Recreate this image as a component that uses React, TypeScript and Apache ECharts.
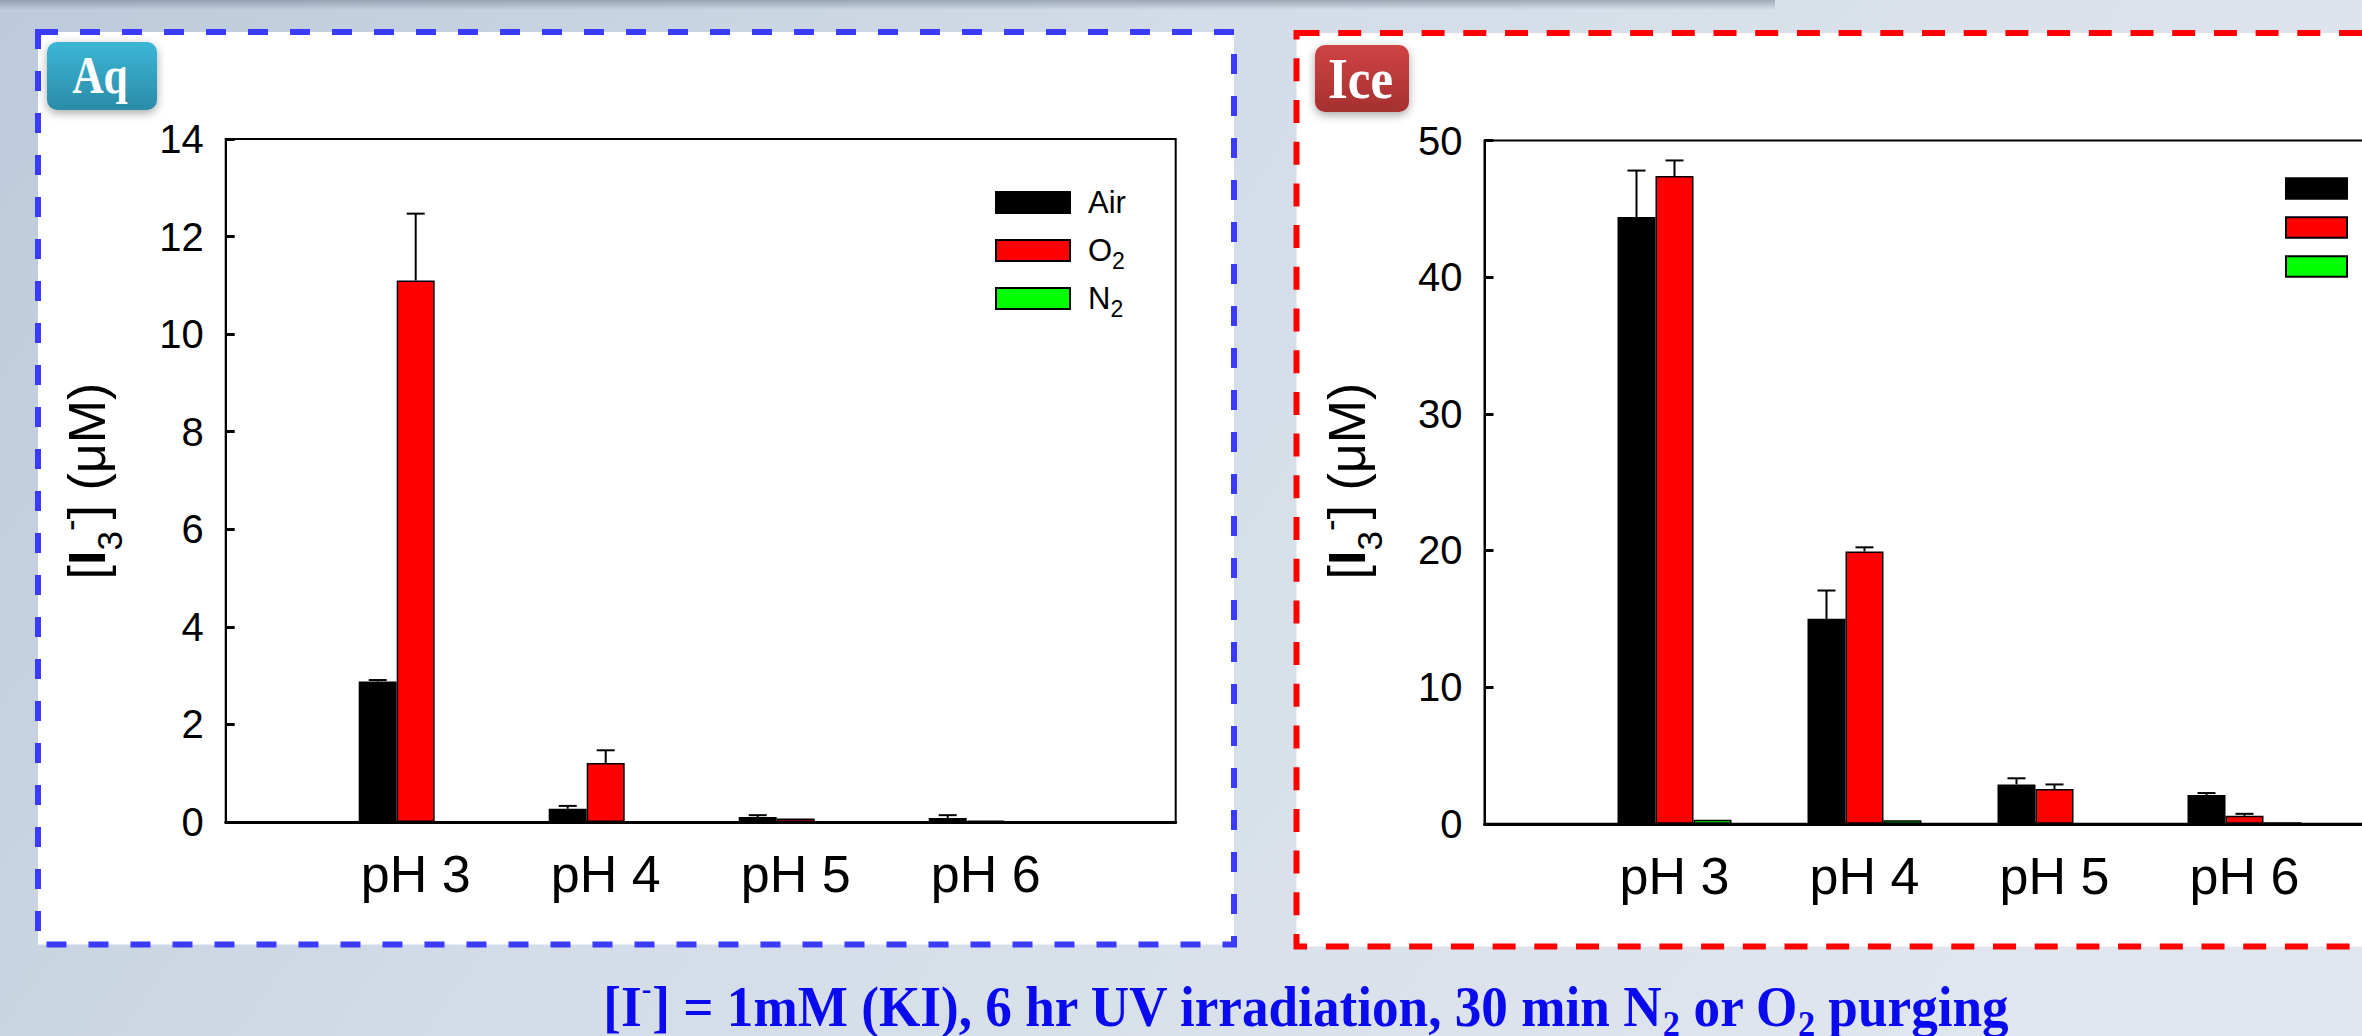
import React, { useEffect, useRef } from 'react';
import * as echarts from 'echarts';

// ---------- data ----------
const categories = ['pH 3', 'pH 4', 'pH 5', 'pH 6'];
const seriesNames = ['Air', 'O2', 'N2'];
const seriesColors = ['#000000', '#ff0000', '#00ff00'];

// Aq panel (µM)
const aqAir = [2.88, 0.27, 0.1, 0.08];
const aqO2 = [11.1, 1.21, 0.07, 0.03];
const aqN2 = [0, 0, 0, 0];
const aqAirErr = [0.03, 0.06, 0.04, 0.06];
const aqO2Err = [1.37, 0.26, 0, 0];
const aqN2Err = [0, 0, 0, 0];

// Ice panel (µM)
const iceAir = [44.4, 15.0, 2.88, 2.11];
const iceO2 = [47.4, 19.93, 2.55, 0.58];
const iceN2 = [0.3, 0.26, 0, 0.12];
const iceAirErr = [3.4, 2.07, 0.45, 0.14];
const iceO2Err = [1.14, 0.3, 0.33, 0.15];
const iceN2Err = [0, 0, 0, 0];

// y-axis ticks
const aqYMin = 0;
const aqYMax = 14;
const aqYStep = 2;
const iceYMin = 0;
const iceYMax = 50;
const iceYStep = 10;

// ---------- styling ----------
const SANS = "'Liberation Sans', Arial, sans-serif";
const SERIF = "'Liberation Serif', 'Times New Roman', serif";
const BAR_W = 38;
const CAP_W = 18;

const axisCats = ['', ...categories, ''];
const pad = (arr: number[]) => ['-', ...arr, '-'];

const errRender = (params: any, api: any) => {
  const cat = api.value(0);
  const val = api.value(1);
  const err = api.value(2);
  const off = api.value(3);
  if (!(err > 0)) return null;
  const p0 = api.coord([cat, val]);
  const p1 = api.coord([cat, val + err]);
  const x = p0[0] + off * BAR_W;
  const style = { stroke: '#000', lineWidth: 2 };
  return {
    type: 'group',
    children: [
      { type: 'line', shape: { x1: x, y1: p0[1], x2: x, y2: p1[1] }, style },
      { type: 'line', shape: { x1: x - CAP_W / 2, y1: p1[1], x2: x + CAP_W / 2, y2: p1[1] }, style },
    ],
  };
};

const errData = (vals: number[][], errs: number[][]) => {
  const out: number[][] = [];
  vals.forEach((v, s) => {
    v.forEach((val, i) => {
      out.push([i + 1, val, errs[s][i], s - 1]);
    });
  });
  return out;
};

const barSeries = (vals: number[][], gi: number) =>
  vals.map((v, s) => ({
    type: 'bar',
    name: seriesNames[s],
    xAxisIndex: gi,
    yAxisIndex: gi,
    data: pad(v),
    barWidth: BAR_W,
    barGap: '0%',
    itemStyle: { color: seriesColors[s], borderColor: '#000', borderWidth: 1.5 },
    z: 3,
  }));

const xAxisCfg = (gi: number) => ({
  gridIndex: gi,
  type: 'category',
  data: axisCats,
  boundaryGap: false,
  axisLine: { show: true, lineStyle: { color: '#000', width: 3 } },
  axisTick: { show: false },
  axisLabel: { interval: 0, fontSize: 52, color: '#000', fontFamily: SANS, margin: 26 },
  splitLine: { show: false },
  z: 5,
});

const yAxisCfg = (gi: number, min: number, max: number, interval: number) => ({
  gridIndex: gi,
  type: 'value',
  min,
  max,
  interval,
  axisLine: { show: true, lineStyle: { color: '#000', width: 2 } },
  axisTick: { show: true, inside: true, length: 9, lineStyle: { color: '#000', width: 3 } },
  axisLabel: { fontSize: 40, color: '#000', fontFamily: SANS, margin: 22 },
  splitLine: { show: false },
  z: 5,
});

const legendCfg = (left: number, top: number, w: number, h: number, fs: number, sfs: number, p: number, gap: number, textPad: number) => ({
  orient: 'vertical',
  left,
  top,
  padding: 0,
  itemWidth: w,
  itemHeight: h,
  itemGap: gap,
  icon: 'rect',
  selectedMode: false,
  data: seriesNames,
  itemStyle: { borderColor: '#000', borderWidth: 2 },
  formatter: (n: string) => (n === 'Air' ? 'Air' : n[0] + '{sub|2}'),
  textStyle: {
    fontSize: fs,
    fontFamily: SANS,
    color: '#000',
    lineHeight: sfs + p,
    padding: [0, 0, 0, textPad],
    rich: {
      sub: { fontSize: sfs, lineHeight: sfs, fontFamily: SANS, color: '#000', padding: [p, 0, 0, 0] },
    },
  },
});

const yTitle = (x: number, y: number) => ({
  type: 'text',
  x,
  y,
  rotation: Math.PI / 2,
  z: 50,
  style: {
    text: '[{b|I}{sub|3}{sup|-}] (μM)',
    fontSize: 52,
    fontFamily: SANS,
    fill: '#000',
    align: 'center',
    verticalAlign: 'middle',
    rich: {
      b: { fontSize: 52, fontWeight: 'bold', fontFamily: SANS, fill: '#000' },
      sub: { fontSize: 35, fontFamily: SANS, fill: '#000', padding: [45, 0, 0, 0] },
      sup: { fontSize: 35, fontFamily: SANS, fill: '#000', padding: [0, 0, 34, 0] },
    },
  },
});

const badge = (x: number, y: number, w: number, h: number, c1: string, c2: string, label: string, tx: number, ty: number, fs: number, sx: number) => ({
  type: 'group',
  z: 60,
  children: [
    {
      type: 'rect',
      shape: { x, y, width: w, height: h, r: 10 },
      style: {
        fill: new echarts.graphic.LinearGradient(0, 0, 0, 1, [
          { offset: 0, color: c1 },
          { offset: 1, color: c2 },
        ]),
        shadowBlur: 10,
        shadowColor: 'rgba(0,0,0,0.35)',
        shadowOffsetY: 3,
      },
    },
    {
      type: 'text',
      x: tx,
      y: ty,
      scaleX: sx,
      style: {
        text: label,
        fontSize: fs,
        fontWeight: 'bold',
        fontFamily: SERIF,
        fill: '#fff',
        align: 'center',
        verticalAlign: 'middle',
      },
    },
  ],
});

const option: any = {
  animation: false,
  backgroundColor: 'transparent',
  grid: [
    { left: 225.7, top: 139, width: 950, height: 683, show: true, borderColor: '#000', borderWidth: 2, backgroundColor: 'transparent' },
    { left: 1484.5, top: 140.5, width: 950, height: 683.3, show: true, borderColor: '#000', borderWidth: 2, backgroundColor: 'transparent' },
  ],
  xAxis: [xAxisCfg(0), xAxisCfg(1)],
  yAxis: [yAxisCfg(0, aqYMin, aqYMax, aqYStep), yAxisCfg(1, iceYMin, iceYMax, iceYStep)],
  legend: [
    legendCfg(995, 181, 74, 21, 31, 23, 20, 5, 13),
    legendCfg(2285, 169, 61, 20.5, 28, 21, 18, 0, 10),
  ],
  series: [
    ...barSeries([aqAir, aqO2, aqN2], 0),
    ...barSeries([iceAir, iceO2, iceN2], 1),
    {
      type: 'custom',
      name: 'errAq',
      xAxisIndex: 0,
      yAxisIndex: 0,
      renderItem: errRender,
      encode: { x: 0, y: 1 },
      data: errData([aqAir, aqO2, aqN2], [aqAirErr, aqO2Err, aqN2Err]),
      z: 10,
      silent: true,
    },
    {
      type: 'custom',
      name: 'errIce',
      xAxisIndex: 1,
      yAxisIndex: 1,
      renderItem: errRender,
      encode: { x: 0, y: 1 },
      data: errData([iceAir, iceO2, iceN2], [iceAirErr, iceO2Err, iceN2Err]),
      z: 10,
      silent: true,
    },
  ],
  graphic: [
    {
      type: 'rect',
      z: -10,
      shape: { x: 0, y: 0, width: 2500, height: 1036 },
      style: {
        fill: new echarts.graphic.LinearGradient(0, 0, 1, 0.3, [
          { offset: 0, color: '#bccadb' },
          { offset: 0.45, color: '#d3dce7' },
          { offset: 1, color: '#e0e6ee' },
        ]),
      },
    },
    {
      type: 'rect',
      z: -9,
      shape: { x: 0, y: 0, width: 1775, height: 10 },
      style: {
        fill: new echarts.graphic.LinearGradient(0, 0, 0, 1, [
          { offset: 0, color: 'rgba(120,132,150,0.6)' },
          { offset: 1, color: 'rgba(120,132,150,0)' },
        ]),
      },
    },
    {
      type: 'rect',
      z: -5,
      shape: { x: 38, y: 32, width: 1196, height: 912.5 },
      style: { fill: '#ffffff', stroke: '#3b3bff', lineWidth: 6, lineDash: [20, 22] },
    },
    {
      type: 'rect',
      z: -5,
      shape: { x: 1296.5, y: 33, width: 1300, height: 913.4 },
      style: { fill: '#ffffff', stroke: '#ff0000', lineWidth: 6, lineDash: [23, 18.7] },
    },
    badge(47, 42, 110, 68, '#3cb6d6', '#2a8ca8', 'Aq', 100, 75, 53, 0.82),
    badge(1315, 45, 94, 67, '#cf4444', '#a53030', 'Ice', 1360.5, 79.5, 56, 0.91),
    yTitle(86.8, 481),
    yTitle(1346.8, 481),
    {
      type: 'text',
      x: 1306,
      y: 1007,
      scaleX: 0.95,
      z: 50,
      style: {
        text: '[I{sup|-}] = 1mM (KI), 6 hr UV irradiation, 30 min N{sub|2} or O{sub|2} purging',
        fontSize: 56,
        fontWeight: 'bold',
        fontFamily: SERIF,
        fill: '#0a0aee',
        align: 'center',
        verticalAlign: 'middle',
        rich: {
          sub: { fontSize: 36, fontWeight: 'bold', fontFamily: SERIF, fill: '#0a0aee', padding: [34, 0, 0, 0] },
          sup: { fontSize: 30, fontWeight: 'bold', fontFamily: SERIF, fill: '#0a0aee', padding: [0, 0, 36, 0] },
        },
      },
    },
  ],
};

export default function App() {
  const ref = useRef<HTMLDivElement>(null);
  useEffect(() => {
    const chart = echarts.init(ref.current!, null, { renderer: 'svg' });
    chart.setOption(option);
    return () => chart.dispose();
  }, []);
  return (
    <div
      style={{
        position: 'fixed',
        left: 0,
        top: 0,
        width: 2362,
        height: 1036,
        overflow: 'hidden',
        background: '#d0d9e4',
      }}
    >
      <div ref={ref} style={{ width: 2500, height: 1036 }} />
    </div>
  );
}
